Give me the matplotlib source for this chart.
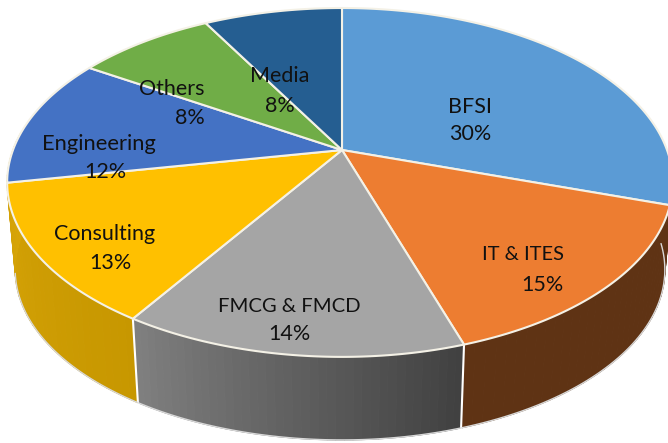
import numpy as np
import matplotlib
matplotlib.use("Agg")
import matplotlib.pyplot as plt
from matplotlib.colors import to_rgb

sectors = ["BFSI", "IT & ITES", "FMCG & FMCD", "Consulting", "Engineering", "Others", "Media"]
shares = [30, 15, 14, 13, 12, 8, 8]

top_colors = ["#5B9BD5", "#ED7D31", "#A5A5A5", "#FFC000", "#4472C4", "#70AD47", "#255E91"]
side_left = ["#2F5F8F", "#5F3314", "#808080", "#D9A608", "#2F5597", "#4E7A30", "#1A4266"]
side_right = ["#2F5F8F", "#5F3314", "#404040", "#C79700", "#2F5597", "#4E7A30", "#1A4266"]

# where the labels sit, in pixels of the picture
name_x = [470, 523, 289, 105, 99, 172, 280]
name_y = [107, 255, 306, 234, 144, 89, 76]
name_size = [15.5, 14.4, 14.6, 15.5, 15.8, 15.5, 15.5]
pct_x = [470, 542, 289, 110, 105, 190, 280]
pct_y = [134, 285, 334, 263, 172, 118, 106]

plt.rcParams["font.family"] = "Lato"

W, H = 668, 443
fig = plt.figure(figsize=(W / 100, H / 100), dpi=100)
ax = fig.add_axes([0, 0, 1, 1])
ax.set_xlim(0, W)
ax.set_ylim(H, 0)
ax.axis("off")


# circle seen in perspective, the near edge comes out bigger
def rim(a, bottom=False):
    x = np.sin(a)
    y = np.cos(a)
    d = 1 + 0.186 * y
    px = np.where(x < 0, 329, 325) * x / d
    py = (150 - 140.5 * y) / d
    if bottom:
        return 342 + 0.976 * px, 238 + 0.976 * (py - 150)
    return 342 + px, py


fracs = np.array(shares) / sum(shares)
edges = np.concatenate([[0], np.cumsum(fracs)]) * 2 * np.pi

# side wall first, only the three wedges in front show one
for i in [1, 2, 3]:
    a0 = edges[i] if i > 1 else np.radians(92)
    a1 = edges[i + 1] if i < 3 else np.radians(276)
    steps = 40
    aa = np.linspace(a0, a1, steps + 1)
    c0 = np.array(to_rgb(side_left[i]))
    c1 = np.array(to_rgb(side_right[i]))
    for j in range(steps):
        seg = np.linspace(aa[j], aa[j + 1], 4)
        tx, ty = rim(seg)
        bx, by = rim(seg, bottom=True)
        t = (j + 0.5) / steps  # gradient runs left to right, angles go right to left
        col = c1 * (1 - t) + c0 * t
        ax.fill(np.r_[tx, bx[::-1]], np.r_[ty, by[::-1]], color=col, lw=0.8, zorder=1)
    # outline of the wall, stops where the bottom rim turns back inside the wall
    seg = np.linspace(a0, min(a1, np.radians(258)), 60)
    bx, by = rim(seg, bottom=True)
    ax.plot(bx, by, color="#D8D8D8", lw=1.0, zorder=2)
    if i < 3:
        tx, ty = rim(edges[i + 1])
        bx, by = rim(edges[i + 1], bottom=True)
        ax.plot([tx, bx], [ty, by], color="white", lw=1.5, zorder=2)

# top face
for i in range(len(sectors)):
    seg = np.linspace(edges[i], edges[i + 1], 120)
    tx, ty = rim(seg)
    ax.fill(np.r_[342, tx], np.r_[150, ty], facecolor=top_colors[i], edgecolor="#F4F1E6",
            lw=1.5, joinstyle="round", zorder=3)

for i in range(len(sectors)):
    ax.text(name_x[i], name_y[i], sectors[i], ha="center", va="center",
            fontsize=name_size[i], color="#111111", zorder=5)
    ax.text(pct_x[i], pct_y[i], f"{shares[i]}%", ha="center", va="center",
            fontsize=15.5, color="#111111", zorder=5)

fig.savefig("out.png", dpi=100)
